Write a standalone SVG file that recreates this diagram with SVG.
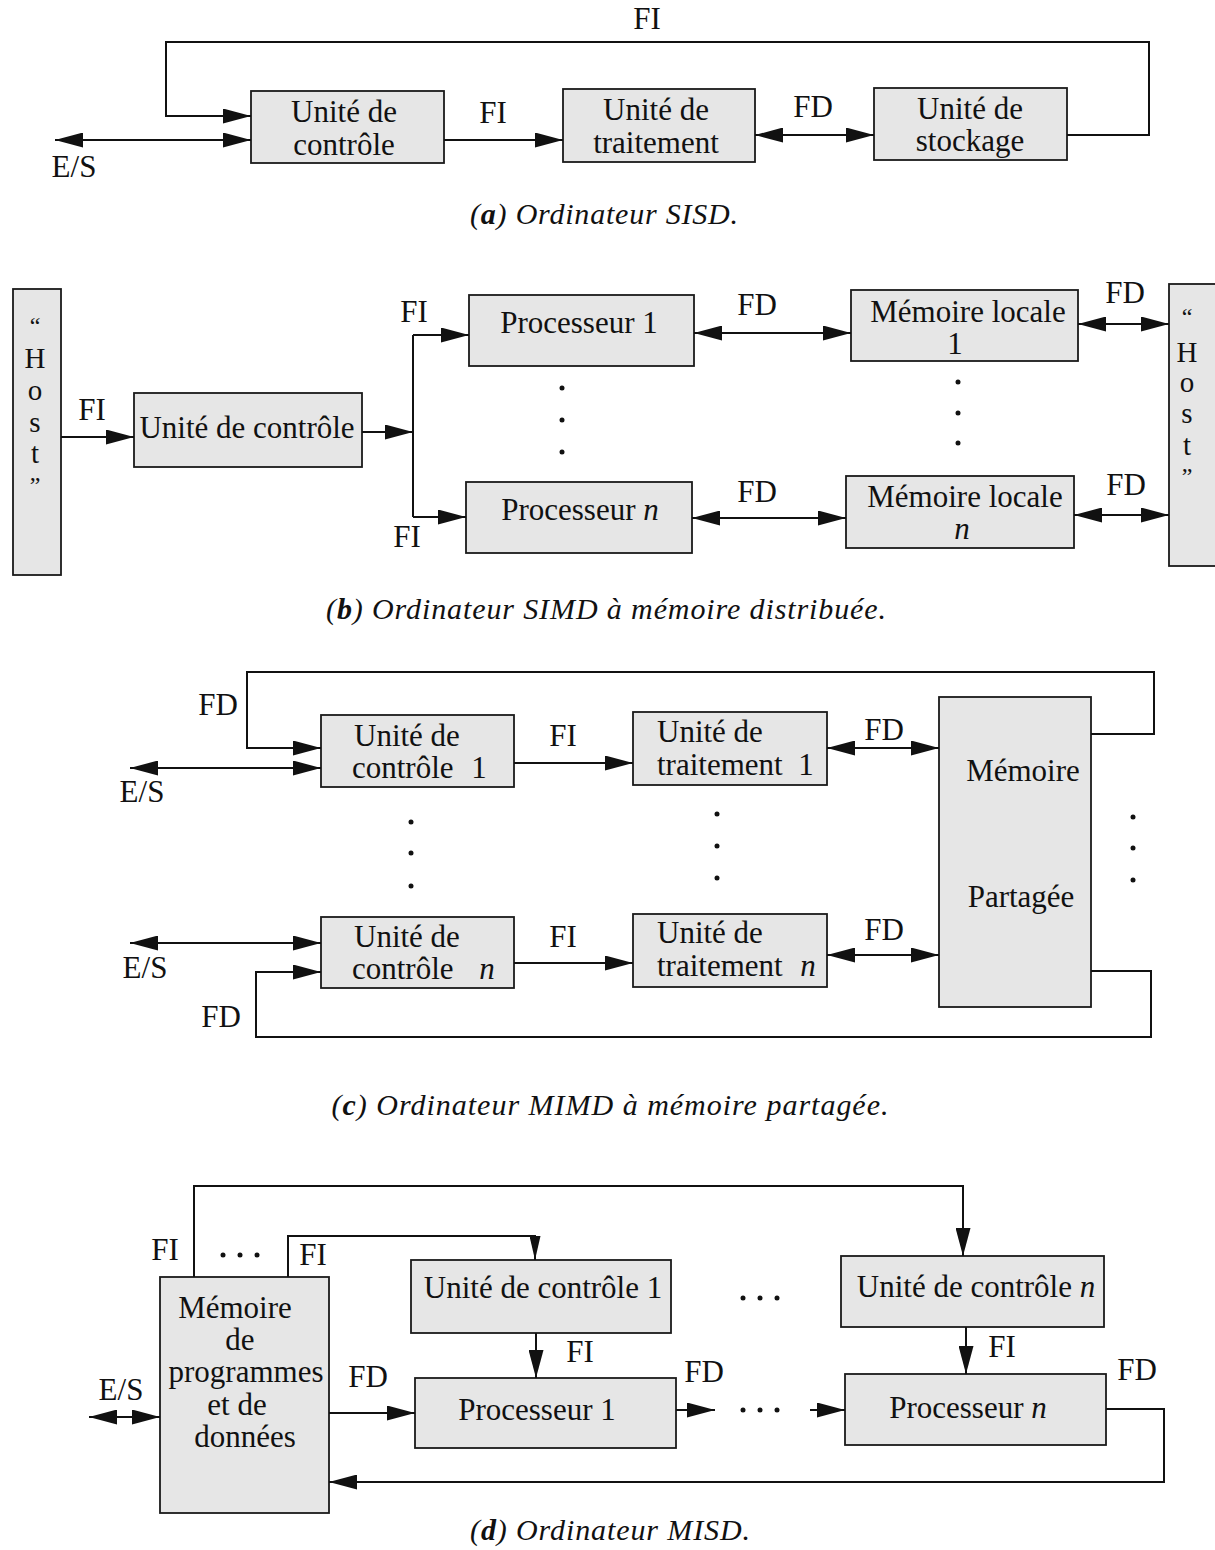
<svg xmlns="http://www.w3.org/2000/svg" width="1215" height="1550" viewBox="0 0 1215 1550">
<style>
.bg{fill:#ffffff}
.box{fill:#e6e6e6;stroke:#1a1a1a;stroke-width:1.8}
.ln{fill:none;stroke:#111;stroke-width:2}
.t{font-family:"Liberation Serif","Times New Roman",serif;font-size:31px;fill:#111}
.h{font-family:"Liberation Serif","Times New Roman",serif;font-size:29px;fill:#111;text-anchor:middle}
.q{font-size:24px}
.m{text-anchor:middle}
.i{font-style:italic}
.cap{font-family:"Liberation Serif","Times New Roman",serif;font-size:30px;font-style:italic;fill:#111;text-anchor:middle}
.dot{fill:#111}
</style>
<defs>
<marker id="ah" viewBox="0 0 28 15" refX="28" refY="7.5" markerWidth="28" markerHeight="15" markerUnits="userSpaceOnUse" orient="auto-start-reverse"><path d="M0,0 L28,7.5 L0,15 z" fill="#111"/></marker>
<marker id="ahs" viewBox="0 0 24 11" refX="24" refY="5.5" markerWidth="24" markerHeight="11" markerUnits="userSpaceOnUse" orient="auto-start-reverse"><path d="M0,0 L24,5.5 L0,11 z" fill="#111"/></marker>
</defs>
<rect class="bg" x="0" y="0" width="1215" height="1550"/>

<!-- ===== (a) SISD ===== -->
<g id="a-uc"><rect class="box" x="251" y="91" width="193" height="72"/><text class="t m" x="344" y="122">Unité de</text><text class="t m" x="344" y="155">contrôle</text></g>
<g id="a-ut"><rect class="box" x="563" y="89" width="192" height="73"/><text class="t m" x="656" y="120">Unité de</text><text class="t m" x="656" y="153">traitement</text></g>
<g id="a-us"><rect class="box" x="874" y="88" width="193" height="72"/><text class="t m" x="970" y="119">Unité de</text><text class="t m" x="970" y="151">stockage</text></g>
<g id="a-conn">
<path class="ln" d="M1067,135 H1149 V42 H166 V116 H251" marker-end="url(#ah)"/>
<path class="ln" d="M55,140 H251" marker-start="url(#ah)" marker-end="url(#ah)"/>
<path class="ln" d="M444,140 H563" marker-end="url(#ah)"/>
<path class="ln" d="M755,135 H874" marker-start="url(#ah)" marker-end="url(#ah)"/>
<text class="t m" x="647" y="29">FI</text>
<text class="t m" x="74" y="177">E/S</text>
<text class="t m" x="493" y="123">FI</text>
<text class="t m" x="813" y="117">FD</text>
</g>
<text class="cap" x="604" y="224" textLength="268" lengthAdjust="spacing">(<tspan font-weight="bold">a</tspan>) Ordinateur SISD.</text>

<!-- ===== (b) SIMD ===== -->
<g id="b-hostL"><rect class="box" x="13" y="289" width="48" height="286"/>
<text class="h q" x="35" y="334">“</text><text class="h" x="35" y="368">H</text><text class="h" x="35" y="400">o</text><text class="h" x="35" y="432">s</text><text class="h" x="35" y="463">t</text><text class="h q" x="35" y="493">”</text></g>
<g id="b-uc"><rect class="box" x="134" y="393" width="228" height="74"/><text class="t m" x="247" y="438">Unité de contrôle</text></g>
<g id="b-p1"><rect class="box" x="469" y="295" width="225" height="71"/><text class="t m" x="579" y="333">Processeur 1</text></g>
<g id="b-pn"><rect class="box" x="466" y="482" width="226" height="71"/><text class="t m" x="580" y="520">Processeur <tspan class="i">n</tspan></text></g>
<g id="b-m1"><rect class="box" x="851" y="290" width="227" height="71"/><text class="t m" x="968" y="322">Mémoire locale</text><text class="t m" x="955" y="354">1</text></g>
<g id="b-mn"><rect class="box" x="846" y="476" width="228" height="72"/><text class="t m" x="965" y="507">Mémoire locale</text><text class="t m i" x="962" y="539">n</text></g>
<g id="b-hostR"><rect class="box" x="1169" y="284" width="60" height="282"/>
<text class="h q" x="1187" y="325">“</text><text class="h" x="1187" y="362">H</text><text class="h" x="1187" y="392">o</text><text class="h" x="1187" y="423">s</text><text class="h" x="1187" y="455">t</text><text class="h q" x="1187" y="484">”</text></g>
<g id="b-dots">
<circle class="dot" cx="562" cy="388" r="2.5"/><circle class="dot" cx="562" cy="420" r="2.5"/><circle class="dot" cx="562" cy="452" r="2.5"/>
<circle class="dot" cx="958" cy="382" r="2.5"/><circle class="dot" cx="958" cy="413" r="2.5"/><circle class="dot" cx="958" cy="443" r="2.5"/>
</g>
<g id="b-conn">
<path class="ln" d="M61,437 H134" marker-end="url(#ah)"/>
<path class="ln" d="M362,432 H413" marker-end="url(#ah)"/>
<path class="ln" d="M413,335 V517"/>
<path class="ln" d="M413,335 H469" marker-end="url(#ah)"/>
<path class="ln" d="M413,517 H466" marker-end="url(#ah)"/>
<path class="ln" d="M694,333 H851" marker-start="url(#ah)" marker-end="url(#ah)"/>
<path class="ln" d="M692,518 H846" marker-start="url(#ah)" marker-end="url(#ah)"/>
<path class="ln" d="M1078,324 H1169" marker-start="url(#ah)" marker-end="url(#ah)"/>
<path class="ln" d="M1074,515 H1169" marker-start="url(#ah)" marker-end="url(#ah)"/>
<text class="t m" x="92" y="420">FI</text>
<text class="t m" x="414" y="322">FI</text>
<text class="t m" x="407" y="547">FI</text>
<text class="t m" x="757" y="315">FD</text>
<text class="t m" x="757" y="502">FD</text>
<text class="t m" x="1125" y="303">FD</text>
<text class="t m" x="1126" y="495">FD</text>
</g>
<text class="cap" x="606" y="619" textLength="560" lengthAdjust="spacing">(<tspan font-weight="bold">b</tspan>) Ordinateur SIMD à mémoire distribuée.</text>

<!-- ===== (c) MIMD ===== -->
<g id="c-uc1"><rect class="box" x="321" y="715" width="193" height="72"/><text class="t" x="354" y="746">Unité de</text><text class="t" x="352" y="778">contrôle</text><text class="t m" x="479" y="778">1</text></g>
<g id="c-ut1"><rect class="box" x="633" y="712" width="194" height="73"/><text class="t" x="657" y="742">Unité de</text><text class="t" x="657" y="775">traitement</text><text class="t m" x="806" y="775">1</text></g>
<g id="c-mem"><rect class="box" x="939" y="697" width="152" height="310"/><text class="t m" x="1023" y="781">Mémoire</text><text class="t m" x="1021" y="907">Partagée</text></g>
<g id="c-ucn"><rect class="box" x="321" y="917" width="193" height="71"/><text class="t" x="354" y="947">Unité de</text><text class="t" x="352" y="979">contrôle</text><text class="t m i" x="487" y="979">n</text></g>
<g id="c-utn"><rect class="box" x="633" y="914" width="194" height="73"/><text class="t" x="657" y="943">Unité de</text><text class="t" x="657" y="976">traitement</text><text class="t m i" x="808" y="976">n</text></g>
<g id="c-dots">
<circle class="dot" cx="411" cy="822" r="2.5"/><circle class="dot" cx="411" cy="853" r="2.5"/><circle class="dot" cx="411" cy="886" r="2.5"/>
<circle class="dot" cx="717" cy="814" r="2.5"/><circle class="dot" cx="717" cy="846" r="2.5"/><circle class="dot" cx="717" cy="878" r="2.5"/>
<circle class="dot" cx="1133" cy="817" r="2.5"/><circle class="dot" cx="1133" cy="848" r="2.5"/><circle class="dot" cx="1133" cy="880" r="2.5"/>
</g>
<g id="c-conn">
<path class="ln" d="M1091,734 H1154 V672 H247 V748 H321" marker-end="url(#ah)"/>
<path class="ln" d="M130,768 H321" marker-start="url(#ah)" marker-end="url(#ah)"/>
<path class="ln" d="M514,763 H633" marker-end="url(#ah)"/>
<path class="ln" d="M827,748 H939" marker-start="url(#ah)" marker-end="url(#ah)"/>
<path class="ln" d="M130,943 H321" marker-start="url(#ah)" marker-end="url(#ah)"/>
<path class="ln" d="M1091,971 H1151 V1037 H256 V972 H321" marker-end="url(#ah)"/>
<path class="ln" d="M514,963 H633" marker-end="url(#ah)"/>
<path class="ln" d="M827,955 H939" marker-start="url(#ah)" marker-end="url(#ah)"/>
<text class="t m" x="218" y="715">FD</text>
<text class="t m" x="142" y="802">E/S</text>
<text class="t m" x="563" y="746">FI</text>
<text class="t m" x="884" y="740">FD</text>
<text class="t m" x="145" y="978">E/S</text>
<text class="t m" x="221" y="1027">FD</text>
<text class="t m" x="563" y="947">FI</text>
<text class="t m" x="884" y="940">FD</text>
</g>
<text class="cap" x="610" y="1115" textLength="557" lengthAdjust="spacing">(<tspan font-weight="bold">c</tspan>) Ordinateur MIMD à mémoire partagée.</text>

<!-- ===== (d) MISD ===== -->
<g id="d-mem"><rect class="box" x="160" y="1277" width="169" height="236"/>
<text class="t m" x="235" y="1318">Mémoire</text><text class="t m" x="240" y="1350">de</text><text class="t m" x="246" y="1382">programmes</text><text class="t m" x="237" y="1415">et de</text><text class="t m" x="245" y="1447">données</text></g>
<g id="d-uc1"><rect class="box" x="411" y="1260" width="260" height="73"/><text class="t m" x="543" y="1298">Unité de contrôle 1</text></g>
<g id="d-p1"><rect class="box" x="415" y="1378" width="261" height="70"/><text class="t m" x="537" y="1420">Processeur 1</text></g>
<g id="d-ucn"><rect class="box" x="841" y="1256" width="263" height="71"/><text class="t m" x="976" y="1297">Unité de contrôle <tspan class="i">n</tspan></text></g>
<g id="d-pn"><rect class="box" x="845" y="1374" width="261" height="71"/><text class="t m" x="968" y="1418">Processeur <tspan class="i">n</tspan></text></g>
<g id="d-dots">
<circle class="dot" cx="223" cy="1255" r="2.5"/><circle class="dot" cx="240" cy="1255" r="2.5"/><circle class="dot" cx="257" cy="1255" r="2.5"/>
<circle class="dot" cx="743" cy="1298" r="2.5"/><circle class="dot" cx="760" cy="1298" r="2.5"/><circle class="dot" cx="777" cy="1298" r="2.5"/>
<circle class="dot" cx="743" cy="1410" r="2.5"/><circle class="dot" cx="760" cy="1410" r="2.5"/><circle class="dot" cx="777" cy="1410" r="2.5"/>
</g>
<g id="d-conn">
<path class="ln" d="M194,1277 V1186 H963 V1256" marker-end="url(#ah)"/>
<path class="ln" d="M288,1277 V1236 H535 V1260" marker-end="url(#ahs)"/>
<path class="ln" d="M536,1333 V1378" marker-end="url(#ah)"/>
<path class="ln" d="M966,1327 V1374" marker-end="url(#ah)"/>
<path class="ln" d="M329,1413 H415" marker-end="url(#ah)"/>
<path class="ln" d="M89,1417 H160" marker-start="url(#ah)" marker-end="url(#ah)"/>
<path class="ln" d="M676,1410 H715" marker-end="url(#ah)"/>
<path class="ln" d="M810,1410 H845" marker-end="url(#ah)"/>
<path class="ln" d="M1106,1409 H1164 V1482 H329" marker-end="url(#ah)"/>
<text class="t m" x="165" y="1260">FI</text>
<text class="t m" x="313" y="1265">FI</text>
<text class="t m" x="580" y="1362">FI</text>
<text class="t m" x="1002" y="1357">FI</text>
<text class="t m" x="368" y="1387">FD</text>
<text class="t m" x="121" y="1400">E/S</text>
<text class="t m" x="704" y="1382">FD</text>
<text class="t m" x="1137" y="1380">FD</text>
</g>
<text class="cap" x="610" y="1540" textLength="280" lengthAdjust="spacing">(<tspan font-weight="bold">d</tspan>) Ordinateur MISD.</text>
</svg>
